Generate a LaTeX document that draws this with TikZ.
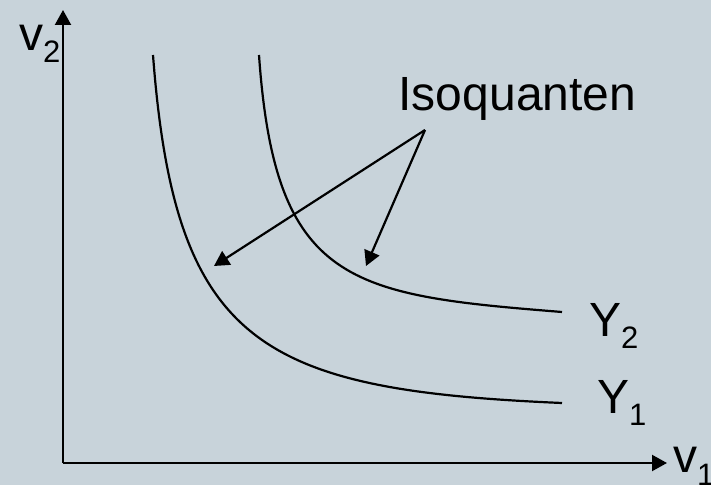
\documentclass[tikz,border=0pt]{standalone}
\usepackage{xcolor}
\usepackage{fontspec}
\setmainfont{Liberation Sans}
\usetikzlibrary{arrows.meta}

\definecolor{slide}{RGB}{200,211,218}
\newcommand{\low}[1]{\raisebox{-6pt}{\fontsize{15.5}{18}\selectfont #1}}

\begin{document}
\begin{tikzpicture}[x=0.5pt, y=-0.5pt, line width=1.1pt,
    lbl/.style={anchor=base west, inner sep=0pt, font=\fontsize{24}{28}\selectfont},
    pointer/.style={-{Triangle[length=7.5pt, width=8pt]}}]
    \useasboundingbox (0,0) rectangle (711,485);
    \fill[slide] (0,0) rectangle (711,485);

    % axes
    \coordinate (origin) at (63,463);
    \coordinate (ytop) at (63,10);
    \coordinate (xend) at (667,463);
    \draw[pointer] (origin) -- (ytop);
    \draw[pointer] (origin) -- (xend);
    \node[lbl] (v2) at (18,51) {v\low{2}};
    \node[lbl] (v1) at (672,473) {v\low{1}};

    % isoquants
    \coordinate (y1a) at (153,55);
    \coordinate (y1b) at (562,403);
    \coordinate (y2a) at (259,55);
    \coordinate (y2b) at (562,312);
    \draw (y1a) .. controls (175,345) and (260,390) .. (y1b);
    \draw (y2a) .. controls (275,285) and (350,295) .. (y2b);
    \node[lbl] (y2) at (588,337) {Y\low{2}};
    \node[lbl] (y1) at (596,414) {Y\low{1}};

    % label with pointers
    \node[lbl] (iso) at (397.5,111) {Isoquanten};
    \coordinate (fork) at (425,130);
    \coordinate (tipA) at (214,266);
    \coordinate (tipB) at (366,266);
    \draw[pointer] (fork) -- (tipA);
    \draw[pointer] (fork) -- (tipB);
\end{tikzpicture}
\end{document}
